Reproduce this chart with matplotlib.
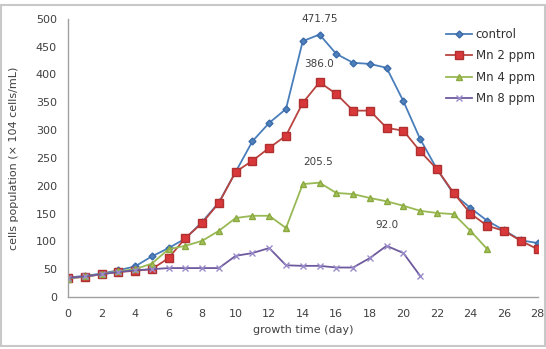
import matplotlib
matplotlib.use("Agg")
import matplotlib.pyplot as plt
from matplotlib.patches import Rectangle

days = list(range(0, 29))
control = [35, 38, 42, 48, 55, 73, 88, 105, 135, 170, 225, 280, 313, 338, 460, 471.75,
           437, 421, 419, 412, 352, 284, 230, 185, 160, 137, 120, 102, 97]
mn2 = [34, 36, 41, 45, 47, 50, 70, 106, 133, 169, 225, 245, 268, 290, 349, 386.0,
       365, 335, 335, 304, 299, 262, 230, 187, 150, 128, 119, 101, 86]
days4 = list(range(0, 26))
mn4 = [33, 37, 41, 46, 50, 60, 86, 92, 101, 119, 142, 146, 146, 124, 203, 205.5,
       187, 185, 178, 172, 164, 155, 151, 149, 119, 86]
days8 = list(range(0, 22))
mn8 = [34, 37, 41, 45, 48, 50, 52, 52, 52, 52, 74, 79, 88, 57, 56, 56,
       53, 53, 70, 92.0, 79, 38]

fig = plt.figure(figsize=(5.46, 3.49), dpi=100)
ax = fig.add_axes([0.1245, 0.149, 0.86, 0.797])

ax.plot(days, control, color="#4A7EBB", marker="D", markersize=3.5, lw=1.3, label="control",
        markerfacecolor="#4F81BD", markeredgecolor="#3A6AA8")
ax.plot(days, mn2, color="#B84440", marker="s", markersize=5.5, lw=1.3, label="Mn 2 ppm",
        markerfacecolor="#D9383A", markeredgecolor="#B03030")
ax.plot(days4, mn4, color="#98B954", marker="^", markersize=5, lw=1.3, label="Mn 4 ppm",
        markerfacecolor="#A5C05A", markeredgecolor="#8AAA40")
ax.plot(days8, mn8, color="#6E5A9E", marker="x", markersize=5, lw=1.3, label="Mn 8 ppm",
        markeredgecolor="#9A8CC8")

ax.annotate("471.75", xy=(15, 471.75), xytext=(0, 11), textcoords="offset points",
            ha="center", va="center", fontsize=7.5, color="#404040")
ax.annotate("386.0", xy=(15, 386.0), xytext=(0, 13), textcoords="offset points",
            ha="center", va="center", fontsize=7.5, color="#404040")
ax.annotate("205.5", xy=(15, 205.5), xytext=(-1, 15), textcoords="offset points",
            ha="center", va="center", fontsize=7.5, color="#404040")
ax.annotate("92.0", xy=(19, 92.0), xytext=(0, 15), textcoords="offset points",
            ha="center", va="center", fontsize=7.5, color="#404040")

ax.set_xlim(0, 28)
ax.set_ylim(0, 500)
ax.set_xticks(range(0, 29, 2))
ax.set_yticks(range(0, 501, 50))
ax.tick_params(axis="x", length=0, labelsize=8, colors="#404040", pad=9)
ax.tick_params(axis="y", length=0, labelsize=8, colors="#404040", pad=8)
for s in ["top", "right"]:
    ax.spines[s].set_visible(False)
for s in ["left", "bottom"]:
    ax.spines[s].set_color("#A0A0A0")
    ax.spines[s].set_linewidth(1.0)

ax.set_xlabel("growth time (day)", fontsize=8, color="#404040", labelpad=4)
ax.set_ylabel("cells population (× 104 cells/mL)", fontsize=8, color="#404040", labelpad=6)
ax.yaxis.set_label_coords(-0.105, 0.5)

leg = ax.legend(loc="upper left", bbox_to_anchor=(0.80, 0.975), frameon=False, fontsize=8.5,
                handlelength=2.2, labelspacing=0.7, handletextpad=0.3, borderaxespad=0.0,
                borderpad=0.2)
for t in leg.get_texts():
    t.set_color("#303030")

fig.add_artist(Rectangle((0.002, 0.01), 0.996, 0.975, transform=fig.transFigure,
                         fill=False, edgecolor="#C8C8C8", lw=1.5))

fig.savefig("out.png", dpi=100)
